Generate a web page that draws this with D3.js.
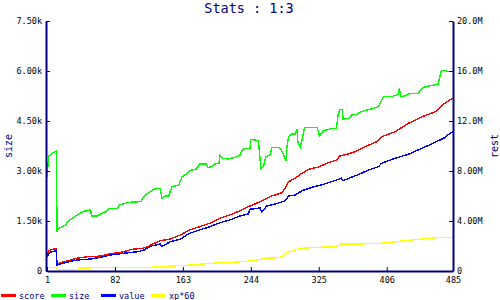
<!DOCTYPE html>
<html>
<head>
<meta charset="utf-8">
<script src="https://cdn.jsdelivr.net/npm/d3@7"></script>
<style>
body { margin: 0; background: #fff; }
text { font-family: "DejaVu Sans Mono", monospace; }
</style>
</head>
<body>
<script>
var w = 500;
var h = 300;

// x positions (sample index) and values
var sizeIdx = [1, 3, 8, 12, 13, 14, 17, 21, 23, 26, 29, 33, 37, 41, 45, 51, 53, 54, 61, 65, 71, 75, 85, 87, 99, 113, 115, 121, 129, 136, 138, 142, 146, 150, 158, 162, 168, 171, 179, 183, 191, 193, 197, 201, 206, 207, 211, 217, 225, 231, 233, 237, 243, 244, 253, 256, 259, 262, 267, 269, 277, 280, 283, 286, 287, 289, 293, 297, 299, 300, 303, 305, 308, 323, 326, 330, 334, 340, 346, 348, 350, 353, 354, 362, 364, 370, 374, 378, 390, 396, 402, 412, 420, 421, 423, 428, 434, 444, 446, 450, 458, 467, 471, 477, 478, 485];
var sizeVals = [2820, 3450, 3540, 3600, 1170, 1230, 1310, 1350, 1380, 1480, 1550, 1610, 1680, 1750, 1790, 1820, 1850, 1650, 1650, 1710, 1780, 1880, 1880, 1980, 2060, 2080, 2180, 2330, 2460, 2480, 2180, 2250, 2250, 2530, 2580, 2830, 2930, 3010, 3060, 3210, 3210, 3110, 3130, 3210, 3230, 3480, 3380, 3360, 3410, 3470, 3610, 3680, 3680, 3950, 3910, 3080, 3150, 3430, 3480, 3710, 3710, 3630, 3480, 3310, 3730, 4030, 4110, 4110, 4250, 3880, 3710, 3930, 4310, 4310, 4050, 4210, 4230, 4280, 4280, 4680, 4850, 4850, 4560, 4580, 4680, 4700, 4760, 4800, 4880, 4930, 5230, 5230, 5300, 5480, 5230, 5260, 5330, 5330, 5430, 5510, 5560, 5600, 6010, 6010, 5980, 5980];

var scoreIdx = [1, 3, 7, 12, 13, 21, 29, 37, 49, 57, 67, 75, 89, 103, 115, 121, 129, 136, 148, 160, 171, 183, 195, 207, 219, 231, 243, 249, 257, 269, 281, 285, 289, 297, 305, 313, 324, 336, 346, 350, 360, 368, 374, 380, 394, 400, 416, 432, 448, 464, 472, 483, 485];
var scoreVals = [1.24, 1.62, 1.74, 1.76, 0.56, 0.74, 0.88, 1.02, 1.14, 1.14, 1.22, 1.36, 1.50, 1.74, 1.82, 1.94, 2.22, 2.42, 2.56, 2.88, 3.28, 3.54, 3.82, 4.22, 4.48, 4.82, 5.20, 5.36, 5.62, 6.00, 6.26, 6.62, 7.14, 7.42, 7.82, 8.14, 8.30, 8.66, 8.88, 9.20, 9.36, 9.54, 9.74, 9.94, 10.34, 10.74, 11.14, 11.82, 12.34, 12.74, 13.28, 13.76, 13.80];

var valueIdx = [1, 5, 11, 12, 13, 17, 27, 37, 53, 65, 77, 93, 109, 117, 125, 136, 138, 148, 160, 171, 183, 195, 207, 219, 231, 241, 243, 255, 257, 263, 273, 285, 289, 297, 305, 317, 328, 340, 352, 354, 364, 374, 384, 396, 400, 416, 432, 448, 464, 475, 483, 485];
var valueVals = [1.16, 1.50, 1.60, 1.62, 0.48, 0.56, 0.74, 0.88, 0.96, 1.10, 1.28, 1.42, 1.54, 1.68, 2.00, 2.16, 1.98, 2.34, 2.54, 3.02, 3.28, 3.54, 3.86, 4.08, 4.40, 4.56, 4.94, 5.04, 4.74, 5.20, 5.36, 5.62, 6.00, 6.08, 6.42, 6.70, 6.88, 7.14, 7.42, 7.22, 7.50, 7.76, 8.08, 8.34, 8.62, 9.02, 9.34, 9.82, 10.30, 10.66, 11.10, 11.12];

var xpIdx = [1, 12, 13, 38, 40, 92, 124, 156, 163, 187, 207, 223, 231, 243, 255, 261, 275, 279, 283, 289, 305, 326, 346, 351, 374, 400, 416, 448, 471, 485];
var xpVals = [0.26, 0.26, 0.14, 0.14, 0.24, 0.30, 0.30, 0.42, 0.44, 0.56, 0.66, 0.70, 0.74, 0.80, 0.92, 1.02, 1.06, 1.10, 1.28, 1.54, 1.82, 1.90, 1.94, 2.16, 2.16, 2.22, 2.34, 2.56, 2.70, 2.70];

var xTicks = [1, 82, 163, 244, 325, 406, 485];
var sizeTicks = [0, 1500, 3000, 4500, 6000, 7500];
var sizeTickLabels = ["0", "1.50k", "3.00k", "4.50k", "6.00k", "7.50k"];
var restTicks = [0, 4, 8, 12, 16, 20];
var restTickLabels = ["0", "4.00M", "8.00M", "12.0M", "16.0M", "20.0M"];

var legendNames = ["score", "size", "value", "xp*60"];
var legendColors = ["#ff0000", "#00ff00", "#0000ff", "#ffff00"];

var navy = "#000080";
var plotLeft = 46, plotRight = 453, plotTop = 21, plotBottom = 271;

var svg = d3.select("body")
    .append("svg")
    .attr("width", w)
    .attr("height", h);

var x = d3.scaleLinear().domain([1, 485]).range([plotLeft + 1, plotRight]);
var ySize = d3.scaleLinear().domain([0, 7500]).range([plotBottom, plotTop]);
var yRest = d3.scaleLinear().domain([0, 20]).range([plotBottom, plotTop]);

svg.append("text")
    .attr("x", 249)
    .attr("y", 13)
    .attr("text-anchor", "middle")
    .attr("font-size", "13.5px")
    .attr("fill", navy)
    .text("Stats : 1:3");

// series
var series = [
    {idx: scoreIdx, vals: scoreVals, y: yRest, color: legendColors[0]},
    {idx: sizeIdx, vals: sizeVals, y: ySize, color: legendColors[1]},
    {idx: valueIdx, vals: valueVals, y: yRest, color: legendColors[2]},
    {idx: xpIdx, vals: xpVals, y: yRest, color: legendColors[3]}
];

series.forEach(function(s) {
    var pts = s.idx.map(function(d, i) { return [d, s.vals[i]]; });
    var line = d3.line()
        .x(function(d) { return x(d[0]); })
        .y(function(d) { return s.y(d[1]); });
    svg.append("path")
        .attr("d", line(pts))
        .attr("fill", "none")
        .attr("stroke", s.color)
        .attr("stroke-width", 1.4)
        .attr("shape-rendering", "crispEdges");
});

// axes
var axL = svg.append("g")
    .attr("transform", "translate(" + plotLeft + ",0)")
    .call(d3.axisLeft(ySize).tickValues(sizeTicks)
        .tickFormat(function(d, i) { return sizeTickLabels[i]; })
        .tickSizeInner(-4).tickSizeOuter(0).tickPadding(4));

var axR = svg.append("g")
    .attr("transform", "translate(" + plotRight + ",0)")
    .call(d3.axisRight(yRest).tickValues(restTicks)
        .tickFormat(function(d, i) { return restTickLabels[i]; })
        .tickSizeInner(-4).tickSizeOuter(0).tickPadding(4));

var axB = svg.append("g")
    .attr("transform", "translate(0," + plotBottom + ")")
    .call(d3.axisBottom(x).tickValues(xTicks)
        .tickFormat(d3.format("d"))
        .tickSizeInner(-4).tickSizeOuter(0).tickPadding(6));

[axL, axR, axB].forEach(function(g) {
    g.select(".domain").attr("stroke", navy).attr("stroke-width", 2);
    g.selectAll(".tick line").attr("stroke", navy).attr("stroke-width", 1);
    g.selectAll(".tick text")
        .attr("fill", "#000")
        .attr("font-size", "8.5px")
        .attr("font-family", "DejaVu Sans Mono, monospace");
});

svg.append("text")
    .attr("transform", "translate(12,146) rotate(-90)")
    .attr("text-anchor", "middle")
    .attr("font-size", "10px")
    .attr("fill", navy)
    .text("size");

svg.append("text")
    .attr("transform", "translate(498,146) rotate(-90)")
    .attr("text-anchor", "middle")
    .attr("font-size", "10px")
    .attr("fill", navy)
    .text("rest");

// legend
var leg = svg.append("g").attr("transform", "translate(1,295.5)");
legendNames.forEach(function(name, i) {
    var gx = i * 50;
    leg.append("line")
        .attr("x1", gx).attr("x2", gx + 15)
        .attr("y1", 0).attr("y2", 0)
        .attr("stroke", legendColors[i])
        .attr("stroke-width", 3);
    leg.append("text")
        .attr("x", gx + 18)
        .attr("y", 3)
        .attr("font-size", "8.5px")
        .attr("fill", navy)
        .text(name);
});
</script>
</body>
</html>
